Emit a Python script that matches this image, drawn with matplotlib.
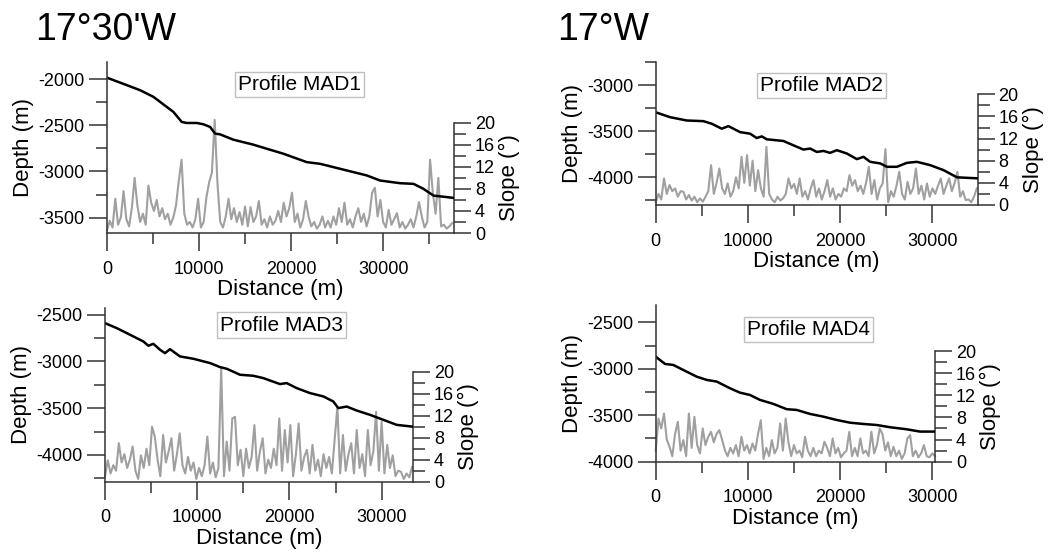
import numpy as np
import matplotlib.pyplot as plt
from matplotlib.ticker import MultipleLocator

plt.rcParams['font.family'] = ['Liberation Sans', 'DejaVu Sans']
plt.rcParams['axes.unicode_minus'] = False

# depth profiles (distance m, depth m)
mad1_dist = [0, 2140, 3590, 5040, 6490, 7210, 8120, 8660, 9750, 10470, 11200, 11740, 12280, 13730,
             15910, 17360, 19170, 21700, 23150, 24600, 26050, 28230, 29670, 31850, 33300, 34380,
             35470, 37650]
mad1_depth = [-1985, -2065, -2120, -2192, -2301, -2355, -2464, -2475, -2475, -2489, -2518, -2590,
              -2598, -2656, -2710, -2754, -2808, -2899, -2917, -2953, -2989, -3043, -3098, -3127,
              -3134, -3188, -3261, -3286]

mad2_dist = [0, 1550, 3360, 5160, 6070, 7160, 7880, 9140, 10230, 10950, 11500, 12040, 13840, 14920,
             16010, 16740, 17460, 18180, 18900, 19630, 20720, 21800, 22520, 23240, 24330, 25050,
             26140, 27220, 28310, 29750, 31190, 32650, 34900]
mad2_depth = [-3295, -3348, -3384, -3391, -3419, -3473, -3445, -3510, -3527, -3574, -3556, -3588,
              -3606, -3653, -3699, -3688, -3725, -3714, -3735, -3706, -3742, -3803, -3778, -3832,
              -3849, -3886, -3886, -3843, -3832, -3868, -3922, -4000, -4011]

mad3_dist = [0, 1270, 2710, 4160, 4700, 5240, 5970, 6510, 7050, 8130, 9580, 11390, 12470, 13200,
             14640, 16090, 17170, 18980, 19700, 20790, 22230, 23680, 24760, 25300, 26210, 27300,
             28740, 30180, 31630, 33260]
mad3_depth = [-2590, -2643, -2714, -2786, -2832, -2811, -2875, -2911, -2868, -2946, -2971, -3017,
              -3060, -3078, -3142, -3153, -3178, -3242, -3231, -3285, -3338, -3374, -3428, -3499,
              -3482, -3525, -3571, -3624, -3678, -3696]

mad4_dist = [0, 1010, 1910, 2990, 4450, 5530, 6620, 8060, 9140, 10230, 11310, 12760, 14210, 15290,
             16740, 18180, 19630, 21070, 22520, 23970, 25410, 27220, 28670, 30290]
mad4_depth = [-2870, -2948, -2959, -3013, -3085, -3120, -3138, -3210, -3257, -3282, -3335, -3378,
              -3435, -3443, -3486, -3515, -3551, -3580, -3594, -3605, -3629, -3651, -3676, -3676]

# slope (degrees), sampled every 300 m along each profile
SLOPE_STEP = 300
mad1_slope = [0.5, 2.2, 1.0, 6.2, 1.5, 2.8, 7.6, 2.5, 1.2, 4.5,
              10.0, 5.0, 2.0, 3.5, 1.5, 8.6, 5.5, 4.0, 6.0, 3.0,
              4.5, 2.5, 3.5, 1.5, 2.8, 5.0, 9.5, 13.3, 3.5, 1.5,
              2.0, 1.0, 2.5, 6.2, 1.0, 2.0, 6.5, 9.2, 11.0, 20.5,
              9.0, 2.0, 1.0, 3.0, 6.2, 2.5, 4.5, 2.0, 3.8, 1.5,
              4.8, 1.2, 4.7, 2.0, 3.0, 5.8, 1.5, 2.5, 1.0, 3.0,
              1.5, 2.2, 4.0, 2.0, 5.5, 3.0, 4.5, 7.3, 2.0, 3.5,
              1.0, 2.5, 5.8, 3.0, 1.2, 2.0, 0.8, 1.5, 3.0, 1.0,
              2.2, 1.0, 3.0, 1.5, 4.5, 2.0, 5.5, 1.5, 2.5, 1.0,
              3.0, 4.5, 2.0, 3.5, 1.2, 3.0, 7.3, 8.2, 3.0, 6.0,
              2.0, 1.0, 4.2, 1.5, 2.5, 3.6, 1.0, 2.0, 0.8, 1.5,
              2.5, 1.0, 3.0, 5.6, 3.0, 1.0, 2.0, 13.3, 7.3, 3.5,
              10.0, 1.2, 1.5, 0.8, 1.2, 1.8]
mad2_slope = [0.5, 2.0, 1.0, 4.8, 2.0, 3.6, 2.5, 3.0, 1.5, 2.5,
              2.4, 1.0, 1.8, 0.8, 1.5, 0.5, 1.2, 0.6, 1.5, 2.5,
              7.2, 2.0, 4.0, 6.6, 3.0, 2.0, 3.9, 1.5, 2.5, 5.0,
              3.0, 8.7, 4.0, 9.0, 3.5, 8.0, 2.5, 6.3, 3.0, 1.5,
              10.5, 2.0, 1.0, 0.5, 1.5, 0.8, 1.2, 2.0, 4.8, 3.0,
              3.8, 2.0, 4.8, 1.5, 2.5, 1.0, 3.0, 4.5, 1.5, 3.0,
              1.0, 2.5, 4.5, 1.5, 3.0, 1.0, 2.0, 1.5, 3.0, 2.5,
              5.4, 3.5, 4.5, 2.5, 3.5, 2.0, 4.0, 6.9, 2.0, 4.5,
              1.0, 3.0, 3.9, 10.1, 0.5, 2.5, 1.5, 3.5, 6.0, 2.0,
              1.0, 4.2, 2.0, 3.0, 6.6, 2.0, 3.5, 1.0, 3.9, 1.5,
              3.0, 2.0, 3.5, 4.8, 2.0, 3.5, 4.8, 2.5, 4.0, 6.0,
              1.5, 2.5, 0.9, 1.0, 0.5, 1.5, 3.0]
mad3_slope = [1.0, 3.9, 1.5, 3.0, 2.0, 7.0, 3.5, 5.0, 2.5, 4.0,
              6.4, 2.0, 0.5, 4.8, 2.5, 6.0, 3.0, 10.0, 8.2, 4.0,
              1.0, 8.5, 3.5, 5.5, 7.9, 2.0, 5.0, 8.8, 3.0, 1.5,
              4.5, 2.0, 3.5, 0.5, 2.5, 1.0, 3.0, 8.2, 1.5, 3.5,
              0.8, 2.5, 20.6, 1.0, 7.3, 2.0, 11.5, 11.8, 3.0, 5.8,
              1.0, 6.0, 2.5, 4.5, 10.3, 2.0, 5.5, 7.9, 1.5, 4.0,
              2.5, 6.0, 3.0, 11.5, 2.0, 9.4, 3.5, 10.3, 1.0, 5.0,
              10.6, 2.0, 4.5, 5.8, 1.5, 6.7, 2.0, 4.0, 1.0, 5.0,
              2.5, 4.5, 1.5, 7.6, 13.6, 1.5, 8.5, 2.0, 5.0, 7.0,
              1.5, 9.4, 2.5, 5.0, 1.0, 9.4, 3.0, 5.5, 12.7, 2.0,
              10.9, 1.5, 6.7, 2.5, 4.8, 1.0, 2.0, 1.8, 0.5, 1.5,
              0.8, 2.7]
mad4_slope = [2.0, 7.8, 6.0, 8.7, 4.0, 2.7, 1.0, 5.0, 7.2, 2.0,
              3.9, 1.0, 8.7, 2.5, 8.1, 3.0, 1.5, 6.0, 3.0, 4.5,
              5.4, 3.5, 5.0, 5.7, 4.0, 2.1, 1.0, 2.5, 1.5, 3.0,
              1.0, 4.5, 2.0, 3.0, 1.5, 3.3, 2.0, 5.0, 7.5, 0.5,
              2.5, 1.0, 3.9, 1.5, 2.5, 6.9, 2.0, 7.8, 3.5, 1.0,
              3.0, 1.5, 2.0, 0.8, 4.5, 2.0, 1.0, 2.5, 1.0, 2.0,
              1.5, 3.6, 2.5, 1.0, 4.2, 1.5, 2.5, 0.8, 1.5, 2.0,
              5.4, 1.0, 2.5, 1.0, 4.2, 1.5, 2.0, 1.0, 5.4, 1.5,
              3.0, 6.0, 5.0, 2.0, 3.5, 1.0, 2.7, 1.0, 2.0, 0.5,
              1.5, 4.2, 4.8, 1.0, 2.0, 0.8, 1.5, 3.0, 1.0, 0.8,
              1.5, 1.0]

W, H = 1052, 556
SPINE = '#333333'


def px_box(x0, x1, ytop, ybot):
    return [x0 / W, 1 - ybot / H, (x1 - x0) / W, (ybot - ytop) / H]


def profile(fig, frame, slope_top, xmax, ylim, dist, depth, slope, name, name_xy):
    x0, x1, ytop, ybot = frame
    ax_s = fig.add_axes(px_box(x0, x1, slope_top, ybot))
    ax_d = fig.add_axes(px_box(x0, x1, ytop, ybot))
    ax_s.set_zorder(1)
    ax_d.set_zorder(2)
    ax_d.patch.set_visible(False)

    sx = np.arange(len(slope)) * SLOPE_STEP
    ax_s.plot(sx, slope, color='#a0a0a0', lw=1.5, clip_on=False)
    ax_s.set_xlim(0, xmax)
    ax_s.set_ylim(0, 20)
    for s in ['top', 'left', 'bottom']:
        ax_s.spines[s].set_visible(False)
    ax_s.spines['right'].set_color(SPINE)
    ax_s.spines['right'].set_linewidth(1.1)
    ax_s.yaxis.tick_right()
    ax_s.yaxis.set_label_position('right')
    ax_s.set_xticks([])
    ax_s.yaxis.set_major_locator(MultipleLocator(4))
    ax_s.yaxis.set_minor_locator(MultipleLocator(2))
    ax_s.tick_params(axis='y', which='major', length=12, width=1.1, color=SPINE,
                     labelsize=13, pad=3)
    ax_s.tick_params(axis='y', which='minor', length=8.5, width=1.1, color=SPINE)
    ax_s.set_ylabel('Slope (°)', fontsize=16, labelpad=3)

    ax_d.plot(dist, depth, color='black', lw=1.8)
    ax_d.set_xlim(0, xmax)
    ax_d.set_ylim(*ylim)
    for s in ['top', 'right']:
        ax_d.spines[s].set_visible(False)
    for s in ['left', 'bottom']:
        ax_d.spines[s].set_color(SPINE)
        ax_d.spines[s].set_linewidth(1.1)
    ax_d.xaxis.set_major_locator(MultipleLocator(10000))
    ax_d.xaxis.set_minor_locator(MultipleLocator(5000))
    ax_d.yaxis.set_major_locator(MultipleLocator(500))
    ax_d.yaxis.set_minor_locator(MultipleLocator(250))
    ax_d.tick_params(which='major', length=13, width=1.1, color=SPINE, labelsize=13, pad=3)
    ax_d.tick_params(which='minor', length=8, width=1.1, color=SPINE)
    ax_d.tick_params(axis='x', which='major', pad=7)
    ax_d.set_xlabel('Distance (m)', fontsize=16, labelpad=1)
    ax_d.set_ylabel('Depth (m)', fontsize=16, labelpad=3)

    ax_d.text(name_xy[0], name_xy[1], name, transform=ax_d.transAxes, ha='center',
              va='center', fontsize=15,
              bbox=dict(boxstyle='square,pad=0.15', fc='white', ec='#c0c0c0', lw=1))


fig = plt.figure(figsize=(W / 100, H / 100), dpi=100)

profile(fig, (107, 454, 62, 233), 122.7, 37700, (-3666, -1815),
        mad1_dist, mad1_depth, mad1_slope, 'Profile MAD1', (0.555, 0.868))
profile(fig, (655.7, 977.7, 62, 205), 94.3, 34900, (-4300, -2750),
        mad2_dist, mad2_depth, mad2_slope, 'Profile MAD2', (0.516, 0.837))
profile(fig, (105, 413, 308, 481.7), 371.7, 33400, (-4286, -2428),
        mad3_dist, mad3_depth, mad3_slope, 'Profile MAD3', (0.574, 0.902))
profile(fig, (655.7, 935, 305, 461.7), 351, 30300, (-4000, -2314),
        mad4_dist, mad4_depth, mad4_slope, 'Profile MAD4', (0.548, 0.846))

fig.text(35 / W, 1 - 39.5 / H, "17°30'W", fontsize=27, va='baseline', ha='left')
fig.text(557 / W, 1 - 39.5 / H, "17°W", fontsize=27, va='baseline', ha='left')

fig.savefig('out.png', dpi=100)
